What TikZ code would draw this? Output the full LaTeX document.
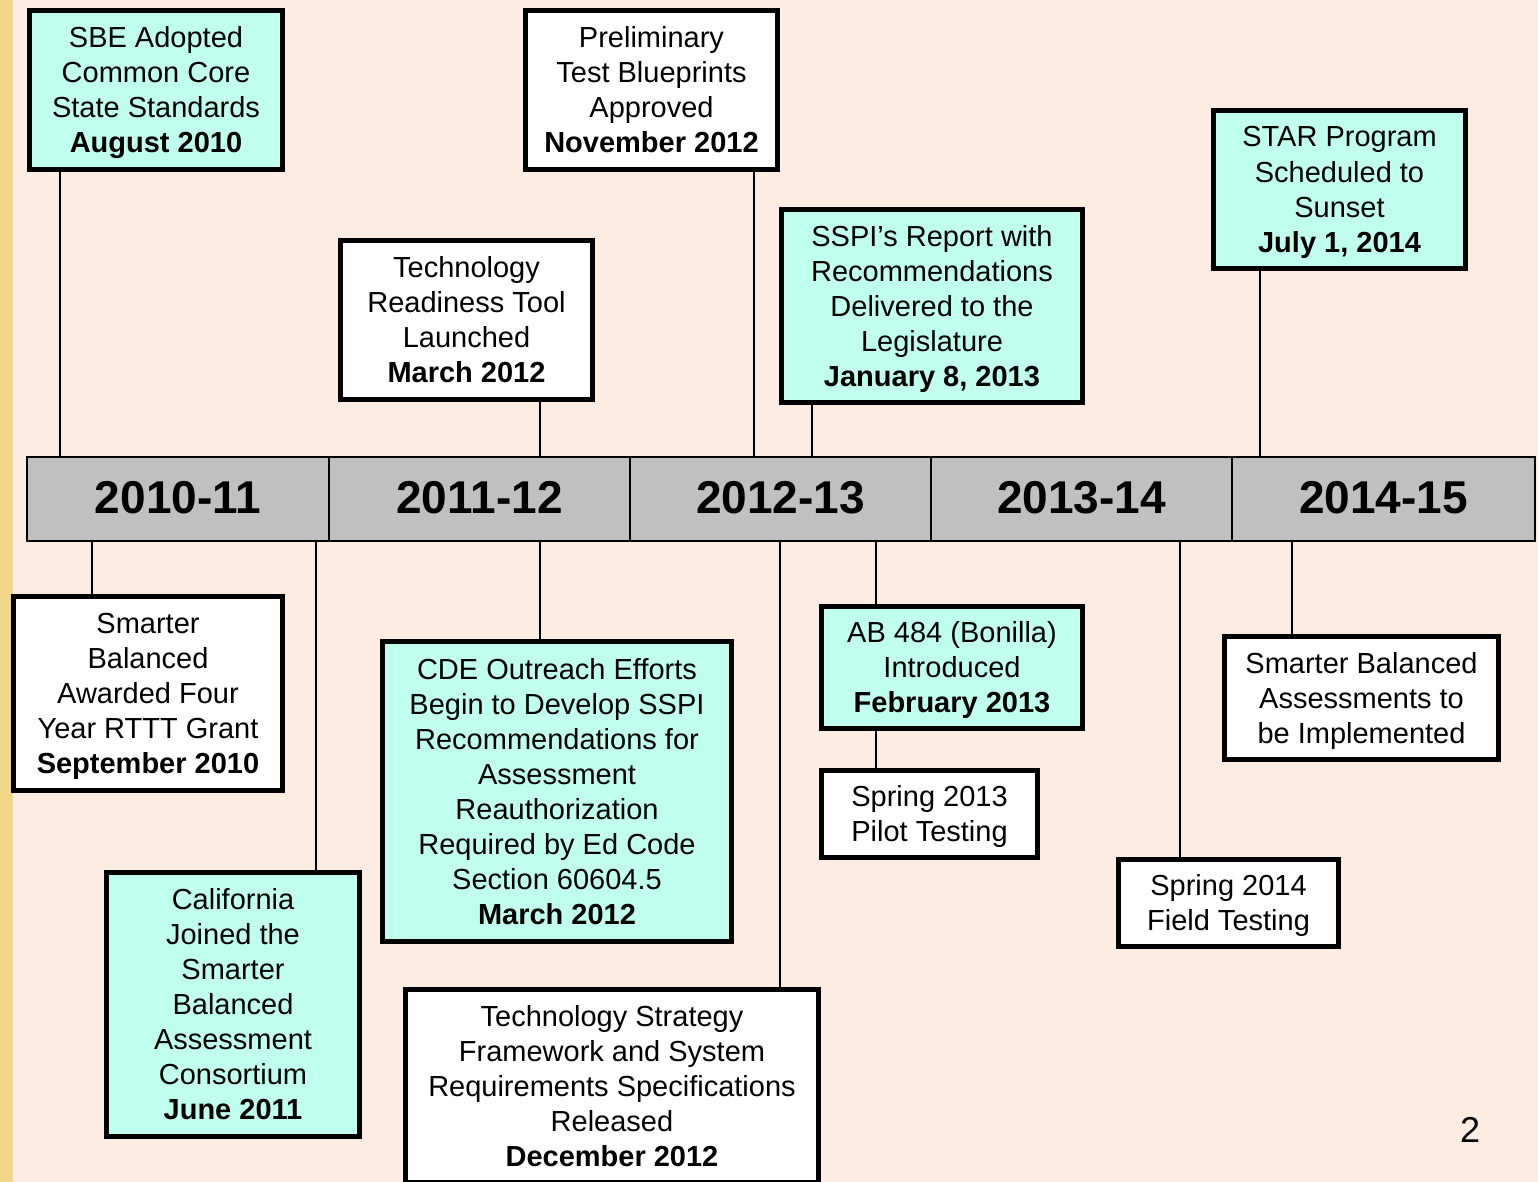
\documentclass[tikz,border=0pt]{standalone}
\usepackage{fontspec}
\setmainfont{Liberation Sans}
\definecolor{bgcol}{HTML}{FDECE2}
\definecolor{stripcol}{HTML}{F2D68A}
\definecolor{aquacol}{HTML}{C0FFEE}
\definecolor{barcol}{HTML}{C0C0C0}
\newcommand\topst{\rule{0pt}{27pt}}
\newcommand\botst{\rule[-7pt]{0pt}{7pt}}
\begin{document}
\begin{tikzpicture}[x=1pt,y=-1pt,
  box/.style={draw=black, line width=4.6pt, align=center, inner sep=0pt,
    font=\fontsize{29}{35}\selectfont},
  cyanbox/.style={box, fill=aquacol},
  whitebox/.style={box, fill=white},
  yearbox/.style={draw=black, line width=2pt, fill=barcol, minimum height=84pt,
    inner sep=0pt, text height=33pt, text depth=5pt,
    font=\fontsize{46}{50}\selectfont\bfseries},
  conn/.style={line width=2pt}]
\clip (0,0) rectangle (1538,1182);
\fill[bgcol] (0,0) rectangle (1538,1182);
\fill[stripcol] (0,0) rectangle (12.5,1182);

% timeline bar
\node[yearbox, minimum width=302pt] (y1) at (178,499) {2010-11};
\node[yearbox, minimum width=301pt] (y2) at (479.5,499) {2011-12};
\node[yearbox, minimum width=301pt] (y3) at (780.5,499) {2012-13};
\node[yearbox, minimum width=301pt] (y4) at (1081.5,499) {2013-14};
\node[yearbox, minimum width=303pt] (y5) at (1383.5,499) {2014-15};

% upper boxes
\node[cyanbox, minimum width=253pt, minimum height=159pt] (sbe) at (156,90)
  {\topst SBE Adopted\\Common Core\\State Standards\\\textbf{August 2010}\botst};
\node[whitebox, minimum width=252pt, minimum height=159pt] (prelim) at (651.5,90)
  {\topst Preliminary\\Test Blueprints\\Approved\\\textbf{November 2012}\botst};
\node[whitebox, minimum width=252pt, minimum height=159pt] (ready) at (466.5,320)
  {\topst Technology\\Readiness Tool\\Launched\\\textbf{March 2012}\botst};
\node[cyanbox, minimum width=301pt, minimum height=193pt] (sspi) at (932,306)
  {\topst SSPI’s Report with\\Recommendations\\Delivered to the\\Legislature\\\textbf{January 8, 2013}\botst};
\node[cyanbox, minimum width=252pt, minimum height=158pt] (star) at (1339.5,189.5)
  {\topst STAR Program\\Scheduled to\\Sunset\\\textbf{July 1, 2014}\botst};

% lower boxes
\node[whitebox, minimum width=269pt, minimum height=194pt] (award) at (148,693.5)
  {\topst Smarter\\Balanced\\Awarded Four\\Year RTTT Grant\\\textbf{September 2010}\botst};
\node[cyanbox, minimum width=253pt, minimum height=264pt] (calif) at (233,1004.5)
  {\topst California\\Joined the\\Smarter\\Balanced\\Assessment\\Consortium\\\textbf{June 2011}\botst};
\node[cyanbox, minimum width=349pt, minimum height=300pt] (cde) at (557,791.5)
  {\topst CDE Outreach Efforts\\Begin to Develop SSPI\\Recommendations for\\Assessment\\Reauthorization\\Required by Ed Code\\Section 60604.5\\\textbf{March 2012}\botst};
\node[whitebox, minimum width=413pt, minimum height=193pt] (strat) at (612,1086)
  {\topst Technology Strategy\\Framework and System\\Requirements Specifications\\Released\\\textbf{December 2012}\botst};
\node[cyanbox, minimum width=261pt, minimum height=122pt] (ab) at (952,667.5)
  {\topst AB 484 (Bonilla)\\Introduced\\\textbf{February 2013}\botst};
\node[whitebox, minimum width=216pt, minimum height=87pt] (sp13) at (929.5,814)
  {\topst Spring 2013\\Pilot Testing\botst};
\node[whitebox, minimum width=220pt, minimum height=87pt] (sp14) at (1228.5,903)
  {\topst Spring 2014\\Field Testing\botst};
\node[whitebox, minimum width=274pt, minimum height=123pt] (impl) at (1361.5,698)
  {\topst Smarter Balanced\\Assessments to\\be Implemented\botst};

% connector x positions
\coordinate (xa) at (60,0);
\coordinate (xb) at (754,0);
\coordinate (xc) at (540,0);
\coordinate (xd) at (812,0);
\coordinate (xe) at (1260,0);
\coordinate (xf) at (92,0);
\coordinate (xg) at (316,0);
\coordinate (xh) at (780,0);
\coordinate (xi) at (876,0);
\coordinate (xj) at (1180,0);
\coordinate (xk) at (1292,0);

% connectors
\draw[conn] (sbe.south -| xa) -- (xa |- y1.north);
\draw[conn] (prelim.south -| xb) -- (xb |- y3.north);
\draw[conn] (ready.south -| xc) -- (xc |- y2.north);
\draw[conn] (sspi.south -| xd) -- (xd |- y3.north);
\draw[conn] (star.south -| xe) -- (xe |- y5.north);
\draw[conn] (y1.south -| xf) -- (xf |- award.north);
\draw[conn] (y1.south -| xg) -- (xg |- calif.north);
\draw[conn] (y2.south -| xc) -- (xc |- cde.north);
\draw[conn] (y3.south -| xh) -- (xh |- strat.north);
\draw[conn] (y3.south -| xi) -- (xi |- ab.north);
\draw[conn] (ab.south -| xi) -- (xi |- sp13.north);
\draw[conn] (y4.south -| xj) -- (xj |- sp14.north);
\draw[conn] (y5.south -| xk) -- (xk |- impl.north);

% page number
\node[font=\fontsize{36}{40}\selectfont] (pnum) at (1470,1130) {2};
\end{tikzpicture}
\end{document}
